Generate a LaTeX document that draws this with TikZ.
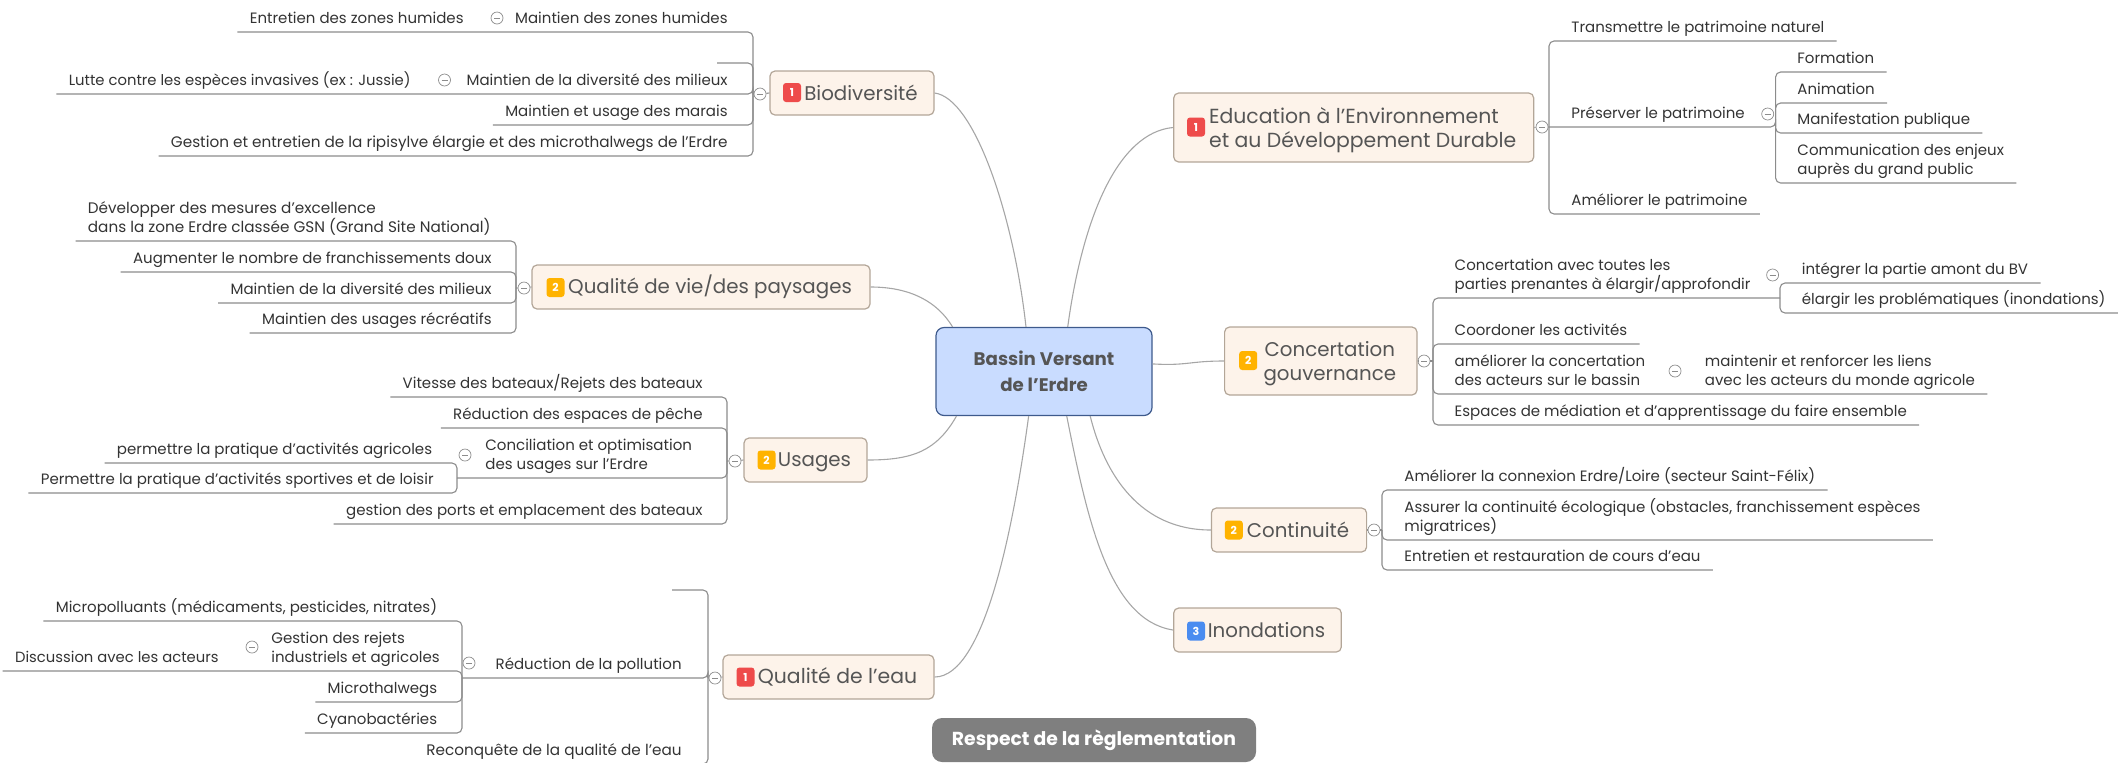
\documentclass[tikz,border=0pt]{standalone}
\usepackage{fontspec}
\setmainfont{Poppins}
\definecolor{topicfill}{HTML}{FDF3EA}
\definecolor{topicline}{HTML}{B3A698}
\definecolor{rootfill}{HTML}{C9DCFF}
\definecolor{rootline}{HTML}{3E5A8C}
\definecolor{notefill}{HTML}{7F7F7F}
\definecolor{inktext}{HTML}{333333}
\definecolor{topictext}{HTML}{555555}
\definecolor{wire}{HTML}{8C8C8C}
\definecolor{curve}{HTML}{A6A6A6}
\definecolor{badgered}{HTML}{EE4B4B}
\definecolor{badgeorange}{HTML}{FFB300}
\definecolor{badgeblue}{HTML}{4A8CF0}
\newcommand{\badgegap}{\hspace*{9pt}}
\tikzset{
  root/.style={draw=rootline,fill=rootfill,rounded corners=4pt,line width=.6pt,minimum width=108pt,minimum height=44pt,inner sep=0pt,align=center,text=topictext,font=\fontsize{9.1}{13}\selectfont\bfseries},
  note/.style={fill=notefill,rounded corners=5pt,minimum width=162pt,minimum height=22pt,inner sep=0pt,text=white,font=\fontsize{9.4}{11}\selectfont\bfseries},
  topic/.style={draw=topicline,fill=topicfill,rounded corners=2.5pt,line width=.6pt,minimum height=22pt,inner sep=0pt,align=center,text=topictext,font=\fontsize{9.9}{12.2}\selectfont},
  topicbig/.style={topic,font=\fontsize{10.2}{12.2}\selectfont},
  badge/.style={rounded corners=1.5pt,minimum width=9pt,minimum height=9.5pt,inner sep=0pt,text=white,font=\fontsize{5.5}{6}\selectfont\bfseries},
  leaf/.style={inner xsep=6pt,inner ysep=0pt,text depth=3.9pt,align=left,text=inktext,font=\fontsize{7.5}{9.5}\selectfont},
  leafl/.style={leaf,anchor=south east},
  leafr/.style={leaf,anchor=south west},
  leafwide/.style={font=\fontsize{7.62}{9.5}\selectfont},
  leafnarrow/.style={font=\fontsize{7.4}{9.5}\selectfont},
  wiring/.style={draw=wire,line width=.55pt,rounded corners=2.5pt},
  link/.style={draw=curve,line width=.55pt},
  collapse/.style={circle,draw=wire,fill=white,line width=.35pt,minimum size=6pt,inner sep=0pt,path picture={\draw[wire,line width=.35pt] ([xshift=1.5pt]path picture bounding box.west) -- ([xshift=-1.5pt]path picture bounding box.east);}}
}
\begin{document}
\begin{tikzpicture}[x=.5pt,y=-.5pt]
\useasboundingbox (0,0) rectangle (2125,762);

\node[root] (bassin) at (1044,371.5){Bassin Versant\\de l'Erdre};
\node[note] (regle) at (1094,740){Respect de la règlementation};

\node[topic,minimum width=82pt] (bio) at (852,93){\badgegap Biodiversité};
\node[badge,fill=badgered] (biobadge) at (792,92.5){1};
\node[topic,minimum width=169pt] (vie) at (701,287){\badgegap Qualité de vie/des paysages};
\node[badge,fill=badgeorange] (viebadge) at (555.5,287.5){2};
\node[topic,minimum width=61.5pt,text depth=0pt] (usages) at (805.5,460){\badgegap Usages};
\node[badge,fill=badgeorange] (usagesbadge) at (766.5,460){2};
\node[topicbig,minimum width=105.5pt] (eau) at (828.5,677){\badgegap Qualité de l'eau};
\node[badge,fill=badgered] (eaubadge) at (745.5,677){1};
\node[topicbig,minimum width=180pt,minimum height=34.5pt,text depth=0pt,align=left] (edu) at (1353.7,127.5){\badgegap Education à l'Environnement\\\badgegap et au Développement Durable};
\node[badge,fill=badgered] (edubadge) at (1196,127){1};
\node[topic,minimum width=96.2pt,minimum height=34pt,text depth=0pt] (gouv) at (1320.8,361){\badgegap Concertation\\\badgegap gouvernance};
\node[badge,fill=badgeorange] (gouvbadge) at (1248.2,360.5){2};
\node[topic,minimum width=77.6pt] (cont) at (1289,530){\badgegap Continuité};
\node[badge,fill=badgeorange] (contbadge) at (1233.8,530){2};
\node[topic,minimum width=83.8pt] (inon) at (1257.5,630){\badgegap Inondations};
\node[badge,fill=badgeblue] (inonbadge) at (1196,631){3};

\draw[link] (bio.east) .. controls +(40,5) and +(-12,-110) .. (bassin.112);
\draw[link] (vie.east) .. controls +(40,0) and +(-15,-25) .. (bassin.154);
\draw[link] (usages.east) .. controls +(45,0) and +(-20,35) .. (bassin.207);
\draw[link] (eau.east) .. controls +(50,0) and +(-15,110) .. (bassin.251);
\draw[link] (edu.west) .. controls +(-55,5) and +(15,-110) .. (bassin.62);
\draw[link] (gouv.west) .. controls +(-35,0) and +(35,2) .. (bassin.4);
\draw[link] (cont.west) .. controls +(-70,0) and +(15,60) .. (bassin.316);
\draw[link] (inon.west) .. controls +(-65,-10) and +(20,100) .. (bassin.297);

\node[collapse] (bioc) at (760,94){};
\coordinate (biot) at (753,94);
\coordinate (biostub) at (717,63);
\node[leafl] (zonesa) at (740,32){Maintien des zones humides};
\node[leafl] (zonesb) at (476,32){Entretien des zones humides};
\node[collapse] (zonesc) at (497,18){};
\node[leafl] (divera) at (740,94){Maintien de la diversité des milieux};
\node[leafl,leafnarrow] (diverb) at (423,94){Lutte contre les espèces invasives (ex : Jussie)};
\node[collapse] (diverc) at (444.5,80){};
\node[leafl] (marais) at (740,125){Maintien et usage des marais};
\node[leafl,leafwide] (ripi) at (740,156){Gestion et entretien de la ripisylve élargie et des microthalwegs de l'Erdre};
\draw[wiring] (bio.west) -- (bioc) -- (biot);
\draw[wiring] (zonesb.south west) -| (biot);
\draw[wiring] (biostub) -| (biot);
\draw[wiring] (diverb.south west) -| (biot);
\draw[wiring] (marais.south west) -| (biot);
\draw[wiring] (ripi.south west) -| (biot);

\node[collapse] (viec) at (524,288){};
\coordinate (viet) at (516,288);
\node[leafl,leafwide] (excel) at (503,241){Développer des mesures d'excellence\\dans la zone Erdre classée GSN (Grand Site National)};
\node[leafl] (doux) at (504,272){Augmenter le nombre de franchissements doux};
\node[leafl] (milieux) at (504,303){Maintien de la diversité des milieux};
\node[leafl] (recre) at (504,333){Maintien des usages récréatifs};
\draw[wiring] (vie.west) -- (viec) -- (viet);
\draw[wiring] (excel.south west) -| (viet);
\draw[wiring] (doux.south west) -| (viet);
\draw[wiring] (milieux.south west) -| (viet);
\draw[wiring] (recre.south west) -| (viet);

\node[collapse] (usagesc) at (735,461){};
\coordinate (usagest) at (727,461);
\coordinate (concilt) at (457,478);
\node[leafl] (vitesse) at (715,397){Vitesse des bateaux/Rejets des bateaux};
\node[leafl] (peche) at (715,428){Réduction des espaces de pêche};
\node[leafr] (concil) at (473,478){Conciliation et optimisation\\des usages sur l'Erdre};
\node[collapse] (concilc) at (465,455){};
\node[leafl] (agri) at (444.5,463){permettre la pratique d'activités agricoles};
\node[leafl] (sport) at (446,493){Permettre la pratique d'activités sportives et de loisir};
\node[leafl] (ports) at (715,524){gestion des ports et emplacement des bateaux};
\draw[wiring] (usages.west) -- (usagesc) -- (usagest);
\draw[wiring] (vitesse.south west) -| (usagest);
\draw[wiring] (peche.south west) -| (usagest);
\draw[wiring] (concilt) -| (usagest);
\draw[wiring] (agri.south west) -| (concilt);
\draw[wiring] (sport.south west) -| (concilt);
\draw[wiring] (ports.south west) -| (usagest);

\node[collapse] (eauc) at (715,678){};
\coordinate (eaut) at (708,678);
\coordinate (polt) at (462,678);
\coordinate (eaustub) at (672,590);
\node[leafl] (pollu) at (694,678){Réduction de la pollution};
\node[collapse] (polluc) at (469,663){};
\node[leafl] (micro) at (449.5,621){Micropolluants (médicaments, pesticides, nitrates)};
\node[leafr] (rejets) at (259,671){Gestion des rejets\\industriels et agricoles};
\node[leafl,leafnarrow] (discu) at (231,671){Discussion avec les acteurs};
\node[collapse] (rejetsc) at (252,647){};
\node[leafl] (thalweg) at (449.5,702){Microthalwegs};
\node[leafl] (cyano) at (449.5,733){Cyanobactéries};
\node[leafl,leafwide] (reconq) at (694,764){Reconquête de la qualité de l'eau};
\draw[wiring] (eau.west) -- (eauc) -- (eaut);
\draw[wiring] (eaustub) -| (eaut);
\draw[wiring] (polt) -| (eaut);
\draw[wiring] (micro.south west) -| (polt);
\draw[wiring] (discu.south west) -| (polt);
\draw[wiring] (thalweg.south west) -| (polt);
\draw[wiring] (cyano.south west) -| (polt);
\draw[wiring] (reconq.south west) -| (eaut);

\node[collapse] (educ) at (1542,127){};
\coordinate (edut) at (1549,127);
\coordinate (prest) at (1775.6,127);
\node[leafr] (trans) at (1559,41){Transmettre le patrimoine naturel};
\node[leafr] (preser) at (1559,127){Préserver le patrimoine};
\node[collapse] (preserc) at (1767.7,114){};
\node[leafr] (forma) at (1785,72){Formation};
\node[leafr] (anim) at (1785,103){Animation};
\node[leafr] (manif) at (1785,133){Manifestation publique};
\node[leafr] (commu) at (1785,183){Communication des enjeux\\auprès du grand public};
\node[leafr] (amel) at (1559,214){Améliorer le patrimoine};
\draw[wiring] (edu.east) -- (educ) -- (edut);
\draw[wiring] (trans.south east) -| (edut);
\draw[wiring] (amel.south east) -| (edut);
\draw[wiring] (edut) -| (prest);
\draw[wiring] (forma.south east) -| (prest);
\draw[wiring] (anim.south east) -| (prest);
\draw[wiring] (manif.south east) -| (prest);
\draw[wiring] (commu.south east) -| (prest);

\node[collapse] (gouvc) at (1424,361){};
\coordinate (gouvt) at (1433,361);
\coordinate (partt) at (1780,298);
\node[leafr] (parties) at (1442.3,298){Concertation avec toutes les\\parties prenantes à élargir/approfondir};
\node[collapse] (partiesc) at (1772.6,275){};
\node[leafr] (amont) at (1789.5,283){intégrer la partie amont du BV};
\node[leafr] (inond) at (1789.5,313){élargir les problématiques (inondations)};
\node[leafr] (coord) at (1442.3,344){Coordoner les activités};
\node[leafr] (bassinc) at (1442.3,394){améliorer la concertation\\des acteurs sur le bassin};
\node[collapse] (bassincc) at (1675,371){};
\node[leafr] (liens) at (1692.5,394){maintenir et renforcer les liens\\avec les acteurs du monde agricole};
\node[leafr] (media) at (1442.3,425){Espaces de médiation et d'apprentissage du faire ensemble};
\draw[wiring] (gouv.east) -- (gouvc) -- (gouvt);
\draw[wiring] (partt) -| (gouvt);
\draw[wiring] (amont.south east) -| (partt);
\draw[wiring] (inond.south east) -| (partt);
\draw[wiring] (coord.south east) -| (gouvt);
\draw[wiring] (liens.south east) -| (gouvt);
\draw[wiring] (media.south east) -| (gouvt);

\node[collapse] (contc) at (1374,530){};
\coordinate (contt) at (1382,530);
\node[leafr] (loire) at (1392,490){Améliorer la connexion Erdre/Loire (secteur Saint-Félix)};
\node[leafr] (ecolo) at (1392,540){Assurer la continuité écologique (obstacles, franchissement espèces\\migratrices)};
\node[leafr] (cours) at (1392,570){Entretien et restauration de cours d'eau};
\draw[wiring] (cont.east) -- (contc) -- (contt);
\draw[wiring] (loire.south east) -| (contt);
\draw[wiring] (ecolo.south east) -| (contt);
\draw[wiring] (cours.south east) -| (contt);
\end{tikzpicture}
\end{document}
